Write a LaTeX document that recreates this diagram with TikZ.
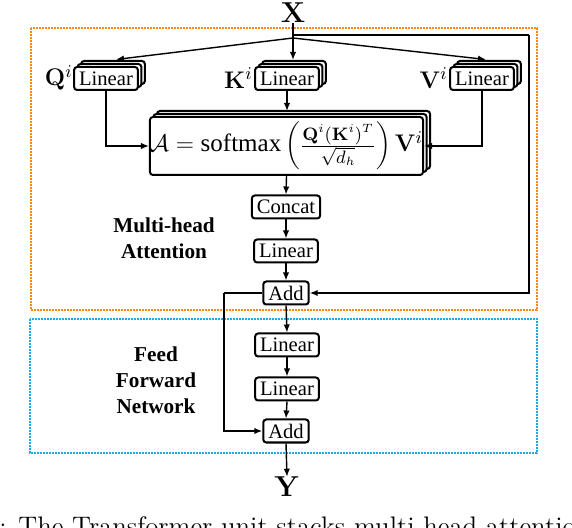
\documentclass[tikz,border=0pt]{standalone}
\usepackage[no-math]{fontspec}
\setmainfont{Liberation Serif}
\newfontfamily\lmfont{Latin Modern Roman}
\usetikzlibrary{arrows.meta,shadows}
\definecolor{orangebox}{RGB}{255,136,20}
\definecolor{bluebox}{RGB}{30,170,230}
\tikzset{
  blk/.style={draw, line width=1pt, rounded corners=1.5pt, fill=white, inner xsep=2.5pt, inner ysep=1.5pt, minimum height=11.5pt, font=\fontsize{10.3}{12}\selectfont},
  stackblk/.style={blk, double copy shadow={shadow xshift=1.75pt, shadow yshift=1.5pt}},
  arr/.style={line width=0.7pt, -{Latex[length=4pt,width=3.2pt]}},
  ln/.style={line width=0.7pt},
  region/.style={line width=1pt, dash pattern=on 1pt off 0.5pt},
  grouplabel/.style={align=center, font=\bfseries\fontsize{10.6}{13}\selectfont},
  sym/.style={inner sep=0pt, font=\fontsize{13}{15}\selectfont},
}
\begin{document}
\begin{tikzpicture}[x=0.5pt,y=-0.5pt]
\useasboundingbox (0,0) rectangle (572,528);
% regions
\draw[region, orangebox] (31,28) rectangle (537,310);
\draw[region, bluebox] (30,319) rectangle (537,453);
% input
\node[inner sep=0pt, font=\fontsize{14.4}{16}\selectfont] (x) at (293,13) {$\mathbf{X}$};
% linear projections
\node[stackblk] (qlin) at (106,78.5) {Linear};
\node[stackblk] (klin) at (287,78.5) {Linear};
\node[stackblk] (vlin) at (482,78.5) {Linear};
\node[sym, anchor=east] (ql) at (73,78) {$\mathbf{Q}^i$};
\node[sym, anchor=east] (kl) at (253,78) {$\mathbf{K}^i$};
\node[sym, anchor=east] (vl) at (448,78) {$\mathbf{V}^i$};
% attention
\node[stackblk, minimum width=130.5pt, minimum height=29pt, inner sep=0pt, font=\fontsize{12.5}{14}\selectfont] (att) at (286.5,146)
  {$\mathcal{A}=\mbox{softmax}\,\biggl(\frac{\mathbf{Q}^i(\mathbf{K}^i)^T}{\sqrt{d_h}}\biggr)\,\mathbf{V}^i$};
\node[blk] (concat) at (286,207) {Concat};
\node[blk] (lin) at (286,251) {Linear};
\node[blk] (add) at (286,293) {Add};
\node[grouplabel] (mha) at (164,238) {Multi-head\\Attention};
% feed forward
\node[blk] (ff1) at (287,345) {Linear};
\node[blk] (ff2) at (287,389) {Linear};
\node[blk] (add2) at (286,431) {Add};
\node[grouplabel] (ffn) at (156,380) {Feed\\Forward\\Network};
\node[inner sep=0pt, font=\fontsize{14.4}{16}\selectfont] (y) at (287,487) {$\mathbf{Y}$};
% helper coordinates
\coordinate (sk) at (293,35);
\coordinate (skc) at (529,35);
\coordinate (br) at (293,38);
\coordinate (qt) at (116,59.5);
\coordinate (kt) at (293,60);
\coordinate (vt) at (486,59.5);
\coordinate (ke) at (287,111);
\coordinate (ae) at (424,146);
\coordinate (rc) at (224,293);
% connectors
\draw[arr] (x.south) -- (kt);
\draw[ln] (sk) -- (skc);
\draw[arr] (skc) |- (add.east);
\draw[arr] (br) -- (qt);
\draw[arr] (br) -- (vt);
\draw[arr] (qlin.south) |- (att.west);
\draw[arr] (klin.south) -- (ke);
\draw[arr] (vlin.south) |- (ae);
\draw[arr] (att.south) -- (concat.north);
\draw[arr] (concat.south) -- (lin.north);
\draw[arr] (lin.south) -- (add.north);
\draw[arr] (add.south) -- (ff1.north);
\draw[arr] (ff1.south) -- (ff2.north);
\draw[arr] (ff2.south) -- (add2.north);
\draw[arr] (add2.south) -- (y.north);
\draw[ln] (add.west) -- (rc);
\draw[arr] (rc) |- (add2.west);
% clipped caption
\node[anchor=base west, inner sep=0pt, font=\lmfont\fontsize{13.4}{15}\selectfont] (cap) at (-1,535) {: The Transformer unit stacks multi-head attention};
\end{tikzpicture}
\end{document}
